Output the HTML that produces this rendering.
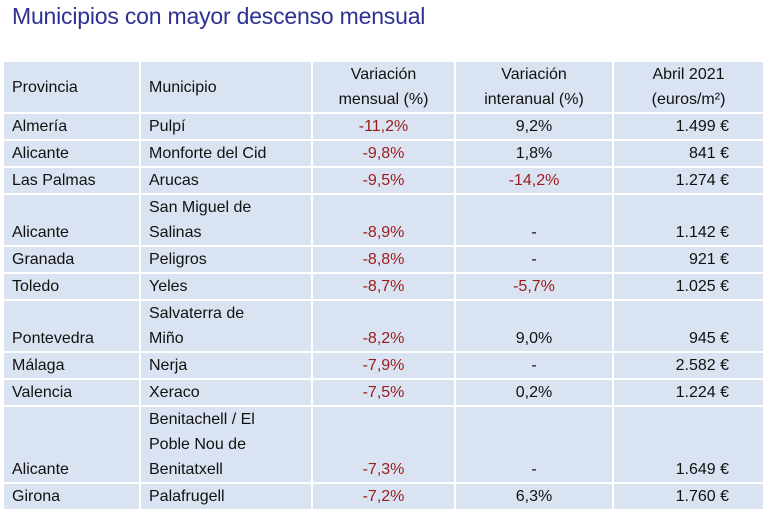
<!DOCTYPE html>
<html><head><meta charset="utf-8"><style>
body{margin:0;width:768px;height:502px;background:#fff;overflow:hidden;font-family:"Liberation Sans",sans-serif;}
h1{position:absolute;left:12px;top:3px;margin:0;font-weight:normal;font-size:23px;color:#2e3192;letter-spacing:-0.2px}
table{position:absolute;left:2px;top:60px;border-collapse:collapse;table-layout:fixed;width:761px}
td{background:#dae3f1;border:2px solid #fff;font-size:16px;line-height:25px;color:#111;padding:0 8px;vertical-align:bottom;white-space:nowrap}
tr.h td{vertical-align:middle;height:48px}
td.c{text-align:center}
td.r{text-align:right;padding-right:34px}
td.hr{text-align:center}
.neg{color:#9b1b1b}
</style></head><body>
<h1>Municipios con mayor descenso mensual</h1>
<table>
<colgroup><col style="width:137px"><col style="width:172px"><col style="width:143px"><col style="width:158px"><col style="width:151px"></colgroup>
<tr class="h"><td>Provincia</td><td>Municipio</td><td class="c">Variación<br>mensual (%)</td><td class="c">Variación<br>interanual (%)</td><td class="hr">Abril 2021<br>(euros/m²)</td></tr>
<tr><td>Almería</td><td>Pulpí</td><td class="c neg">-11,2%</td><td class="c">9,2%</td><td class="r">1.499 €</td></tr>
<tr><td>Alicante</td><td>Monforte del Cid</td><td class="c neg">-9,8%</td><td class="c">1,8%</td><td class="r">841 €</td></tr>
<tr><td>Las Palmas</td><td>Arucas</td><td class="c neg">-9,5%</td><td class="c neg">-14,2%</td><td class="r">1.274 €</td></tr>
<tr><td>Alicante</td><td>San Miguel de<br>Salinas</td><td class="c neg">-8,9%</td><td class="c">-</td><td class="r">1.142 €</td></tr>
<tr><td>Granada</td><td>Peligros</td><td class="c neg">-8,8%</td><td class="c">-</td><td class="r">921 €</td></tr>
<tr><td>Toledo</td><td>Yeles</td><td class="c neg">-8,7%</td><td class="c neg">-5,7%</td><td class="r">1.025 €</td></tr>
<tr><td>Pontevedra</td><td>Salvaterra de<br>Miño</td><td class="c neg">-8,2%</td><td class="c">9,0%</td><td class="r">945 €</td></tr>
<tr><td>Málaga</td><td>Nerja</td><td class="c neg">-7,9%</td><td class="c">-</td><td class="r">2.582 €</td></tr>
<tr><td>Valencia</td><td>Xeraco</td><td class="c neg">-7,5%</td><td class="c">0,2%</td><td class="r">1.224 €</td></tr>
<tr><td>Alicante</td><td>Benitachell / El<br>Poble Nou de<br>Benitatxell</td><td class="c neg">-7,3%</td><td class="c">-</td><td class="r">1.649 €</td></tr>
<tr><td>Girona</td><td>Palafrugell</td><td class="c neg">-7,2%</td><td class="c">6,3%</td><td class="r">1.760 €</td></tr>
</table>
</body></html>
